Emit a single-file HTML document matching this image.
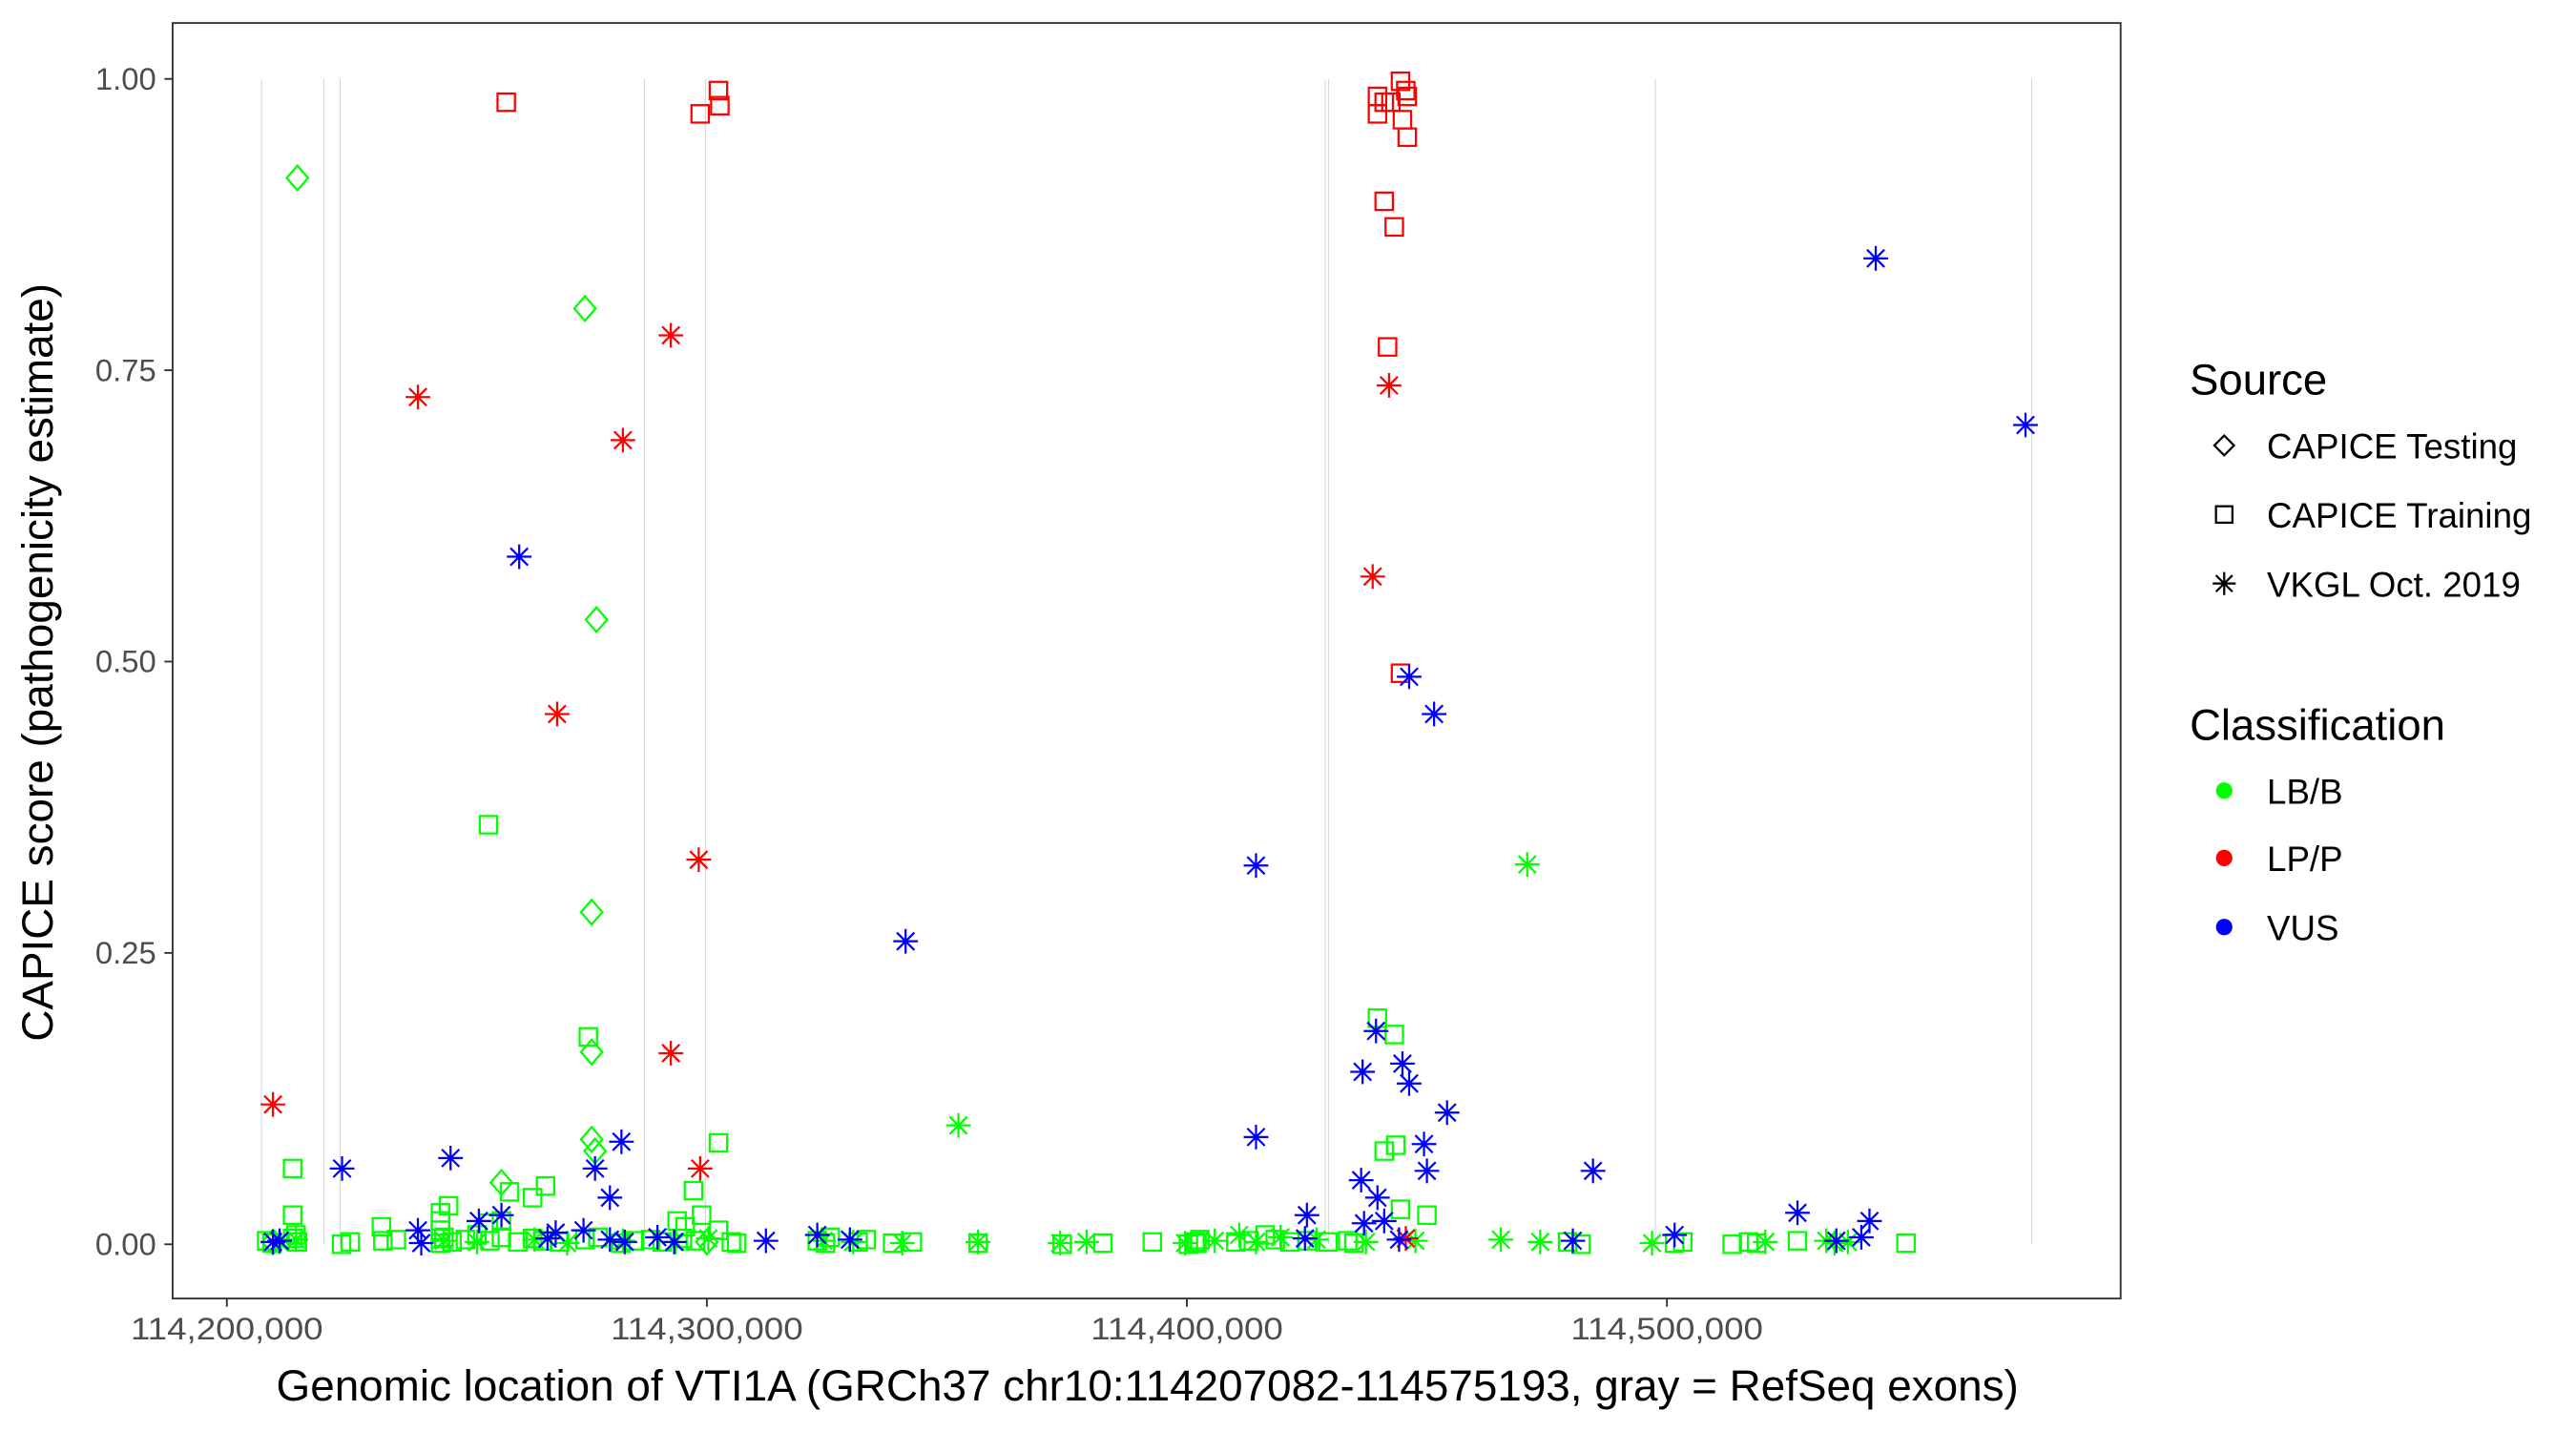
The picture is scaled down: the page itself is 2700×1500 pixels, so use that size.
<!DOCTYPE html>
<html><head><meta charset="utf-8"><style>
html,body{margin:0;padding:0;background:#fff;}
svg{display:block;font-family:"Liberation Sans",Arial,sans-serif;}
</style></head><body>
<svg id="chart" width="2700" height="1500" viewBox="0 0 1567 870.6" preserveAspectRatio="none" xmlns="http://www.w3.org/2000/svg">
<rect x="0" y="0" width="1567" height="870.6" fill="#fff"/>
<g id="exons"></g>
<g id="points"></g>
<rect x="105" y="14" width="1185" height="776" fill="none" stroke="#333" stroke-width="1.1"/>
<g id="yaxis"></g>
<g id="xaxis"></g>
<text transform="translate(32,403) rotate(-90)" text-anchor="middle" font-size="26.6" fill="#000">CAPICE score (pathogenicity estimate)</text>
<text x="698" y="852" text-anchor="middle" font-size="26.6" fill="#000">Genomic location of VTI1A (GRCh37 chr10:114207082-114575193, gray = RefSeq exons)</text>
<g>
<text x="1332" y="240" font-size="26.4">Source</text>
<g><path d="M1353 265 l6 6 l-6 6 l-6 -6 z" fill="none" stroke="#000" stroke-width="1.3"/><text x="1379" y="279" font-size="21.3">CAPICE Testing</text></g>
<g><rect x="1348" y="308" width="10" height="10" fill="none" stroke="#000" stroke-width="1.3"/><text x="1379" y="321" font-size="21.3">CAPICE Training</text></g>
<g><path d="M1353 348 v14 M1346 355 h14 M1348 350 l10 10 M1358 350 l-10 10" stroke="#000" stroke-width="1.3"/><text x="1379" y="363" font-size="21.3">VKGL Oct. 2019</text></g>
<text x="1332" y="450" font-size="26.4">Classification</text>
<g><circle cx="1353" cy="481" r="5" fill="#00ff00"/><text x="1379" y="489" font-size="21.3">LB/B</text></g>
<g><circle cx="1353" cy="522" r="5" fill="#ff0000"/><text x="1379" y="530" font-size="21.3">LP/P</text></g>
<g><circle cx="1353" cy="564" r="5" fill="#0000ff"/><text x="1379" y="572" font-size="21.3">VUS</text></g>
</g>
</svg>
<script>
// data (positions in kb on chr10, scores 0-1)
const exonKb = [114207.2, 114220.2, 114223.6, 114287.0, 114299.7, 114428.8, 114429.5, 114497.6, 114576.0];
const xTicksKb = [114200, 114300, 114400, 114500];
const xTickLabels = ["114,200,000", "114,300,000", "114,400,000", "114,500,000"];
const yTicks = [0, 0.25, 0.5, 0.75, 1];
const yTickLabels = ["0.00", "0.25", "0.50", "0.75", "1.00"];
// each series: positions (kb), scores
const redSqPos = [114258.2,114298.6,114302.4,114302.7,114439.7,114439.7,114441.1,114442.5,114444.5,114444.9,114445.6,114445.9,114445.9,114441.1,114443.2,114441.8,114444.5];
const redSqVal = [0.98,0.97,0.99,0.977,0.985,0.97,0.98,0.98,0.998,0.965,0.99,0.985,0.95,0.895,0.873,0.77,0.49];
const redStPos = [114209.6,114239.8,114268.8,114282.5,114292.5,114292.5,114298.3,114298.6,114438.7,114442.1,114445.6];
const redStVal = [0.12,0.727,0.455,0.69,0.78,0.164,0.33,0.065,0.573,0.737,0.005];
const grDiPos = [114214.7,114274.6,114277.0,114276.0,114276.0,114257.2,114276.0,114276.7,114209.6,114300.0];
const grDiVal = [0.915,0.803,0.536,0.285,0.165,0.053,0.09,0.08,0.002,0.002];
const grSqPos = [114254.5,114275.3,114302.4,114213.7,114213.7,114439.7,114443.2,114441.1,114443.5,114444.5,114450.0,114246.2,114232.2,114244.5,114244.5,114244.5,114244.5,114254.5,114258.9,114263.7,114266.4,114257.2,114295.5,114297.2,114298.9,114293.8,
 114208.3,114209.4,114213.7,114214.4,114214.7,114223.9,114225.7,114232.5,114235.3,114244.5,114245.2,114246.9,114249.7,114252.1,114254.8,114257.2,114260.6,114263.7,114265.8,114269.3,114274.6,114277.3,114282.1,114284.9,114288.3,114290.7,114294.9,114297.6,114302.4,114305.1,114306.2,114323.0,114324.7,114325.7,114331.5,114333.2,114338.7,114342.8,114356.5,114374.0,114382.5,114392.8,114400.3,114401.7,114402.1,114402.7,114410.2,114412.9,114416.3,114418.4,114421.5,114425.0,114429.4,114433.5,114434.8,114479.3,114482.1,114501.6,114503.3,114513.6,114517.0,114518.7,114527.2,114549.8];
const grSqVal = [0.36,0.178,0.087,0.065,0.025,0.194,0.18,0.08,0.085,0.03,0.025,0.033,0.015,0.027,0.02,0.012,0.005,0.018,0.045,0.04,0.05,0.02,0.015,0.046,0.025,0.02,
 0.003,0.001,0.005,0.008,0.002,0,0.002,0.003,0.004,0.001,0.006,0.002,0.004,0.008,0.003,0.006,0.002,0.005,0.003,0.002,0.004,0.006,0.001,0.003,0.004,0.002,0.005,0.003,0.012,0.002,0.001,0.003,0.001,0.006,0.002,0.004,0.001,0.002,0.001,0,0.001,0.002,0,0.002,0.001,0.004,0.002,0.003,0.008,0.004,0.002,0.003,0.002,0.003,0.001,0.002,0,0.001,0.002,0,0.002,0.001,0.003,0.001];
const grStPos = [114410.9,114470.9,114352.4,114210.9,114214.4,114245.2,114252.1,114264.1,114270.9,114282.5,114293.5,114300.3,114324.3,114330.5,114340.7,114356.5,114373.6,114379.1,114399.6,114405.8,114414.4,114419.5,114427.0,114437.3,114447.6,114465.4,114473.6,114496.9,114520.5,114533.2,114534.9,114537.7];
const grStVal = [0.008,0.326,0.102,0.002,0.004,0.003,0.002,0.004,0.001,0.003,0.002,0.005,0.003,0.002,0.001,0.002,0.001,0.002,0.001,0.003,0.002,0.006,0.004,0.002,0.003,0.004,0.002,0.001,0.002,0.003,0.001,0.002];
const blStPos = [114543.5,114574.7,114260.9,114446.3,114451.5,114414.4,114341.4,114439.4,114436.6,114444.9,114446.3,114454.2,114414.4,114449.4,114450.0,114484.6,114224.0,114246.6,114282.2,114276.7,114279.8,114436.3,114439.7,114425.0,114527.2,114542.2,114501.6,114480.4,114312.3,
 114209.6,114211.0,114239.8,114240.5,114252.5,114257.2,114266.8,114268.5,114274.3,114279.8,114282.9,114289.7,114293.2,114323.0,114329.8,114424.6,114436.9,114441.1,114444.2,114535.3,114540.5];
const blStVal = [0.846,0.703,0.59,0.487,0.455,0.325,0.26,0.183,0.148,0.155,0.138,0.113,0.092,0.086,0.063,0.063,0.065,0.074,0.088,0.065,0.04,0.055,0.04,0.025,0.027,0.02,0.008,0.003,0.003,
 0.002,0.003,0.012,0.001,0.02,0.025,0.005,0.01,0.012,0.004,0.002,0.006,0.002,0.008,0.004,0.005,0.018,0.02,0.004,0.003,0.006];

const NS = "http://www.w3.org/2000/svg";
const X0 = 138, XK = 292 / 100; // px per kb
function xs(kb){ return X0 + (kb - 114200) * XK; }
function ys(v){ return 757 - v * 709; }
function mk(tag, attrs, parent){
  const e = document.createElementNS(NS, tag);
  for (const k in attrs) e.setAttribute(k, attrs[k]);
  parent.appendChild(e);
  return e;
}
const exG = document.getElementById('exons');
exonKb.forEach(function(k){
  const l = mk('line', {x1: xs(k), x2: xs(k), y1: ys(1), y2: ys(0), stroke: '#d6d6d6', 'stroke-width': 0.6}, exG);
  
  
});
const yG = document.getElementById('yaxis');
yTicks.forEach(function(v, i){
  mk('line', {x1: 100, x2: 105, y1: ys(v), y2: ys(v), stroke: '#333', 'stroke-width': 1.1}, yG);
  const t = mk('text', {x: 95, y: ys(v) + 6.5, 'text-anchor': 'end', 'font-size': 19, fill: '#4d4d4d', textLength: 37, lengthAdjust: 'spacingAndGlyphs'}, yG);
  t.textContent = yTickLabels[i];
  
  
});
const xG = document.getElementById('xaxis');
xTicksKb.forEach(function(k, i){
  mk('line', {x1: xs(k), x2: xs(k), y1: 790, y2: 795, stroke: '#333', 'stroke-width': 1.1}, xG);
  const t = mk('text', {x: xs(k), y: 815, 'text-anchor': 'middle', 'font-size': 19, fill: '#4d4d4d', textLength: 117, lengthAdjust: 'spacingAndGlyphs'}, xG);
  t.textContent = xTickLabels[i];
  
  
});
const pG = document.getElementById('points');
function square(cx, cy, col){ return mk('rect', {x: cx - 5.3, y: cy - 5.3, width: 10.6, height: 10.6, fill: 'none', stroke: col, 'stroke-width': 1.3}, pG); }
function diamond(cx, cy, col){ return mk('path', {d: 'M'+cx+' '+(cy-7.5)+' L'+(cx+6.5)+' '+cy+' L'+cx+' '+(cy+7.5)+' L'+(cx-6.5)+' '+cy+' Z', fill: 'none', stroke: col, 'stroke-width': 1.3}, pG); }
function star(cx, cy, col){ return mk('path', {d: 'M'+cx+' '+(cy-7.5)+' V'+(cy+7.5)+' M'+(cx-7.5)+' '+cy+' H'+(cx+7.5)+' M'+(cx-5.3)+' '+(cy-5.3)+' L'+(cx+5.3)+' '+(cy+5.3)+' M'+(cx+5.3)+' '+(cy-5.3)+' L'+(cx-5.3)+' '+(cy+5.3), stroke: col, 'stroke-width': 1.3, fill: 'none'}, pG); }
function draw(pos, val, fn, col, name){
  pos.forEach(function(p, i){
    const e = fn(xs(p), ys(val[i]), col);
    
    
  });
}
draw(grSqPos, grSqVal, square, '#00ff00', 'point-training-lbb');
draw(grDiPos, grDiVal, diamond, '#00ff00', 'point-testing-lbb');
draw(grStPos, grStVal, star, '#00ff00', 'point-vkgl-lbb');
draw(redSqPos, redSqVal, square, '#ff0000', 'point-training-lpp');
draw(redStPos, redStVal, star, '#ff0000', 'point-vkgl-lpp');
draw(blStPos, blStVal, star, '#0000ff', 'point-vkgl-vus');
</script>
</body></html>
